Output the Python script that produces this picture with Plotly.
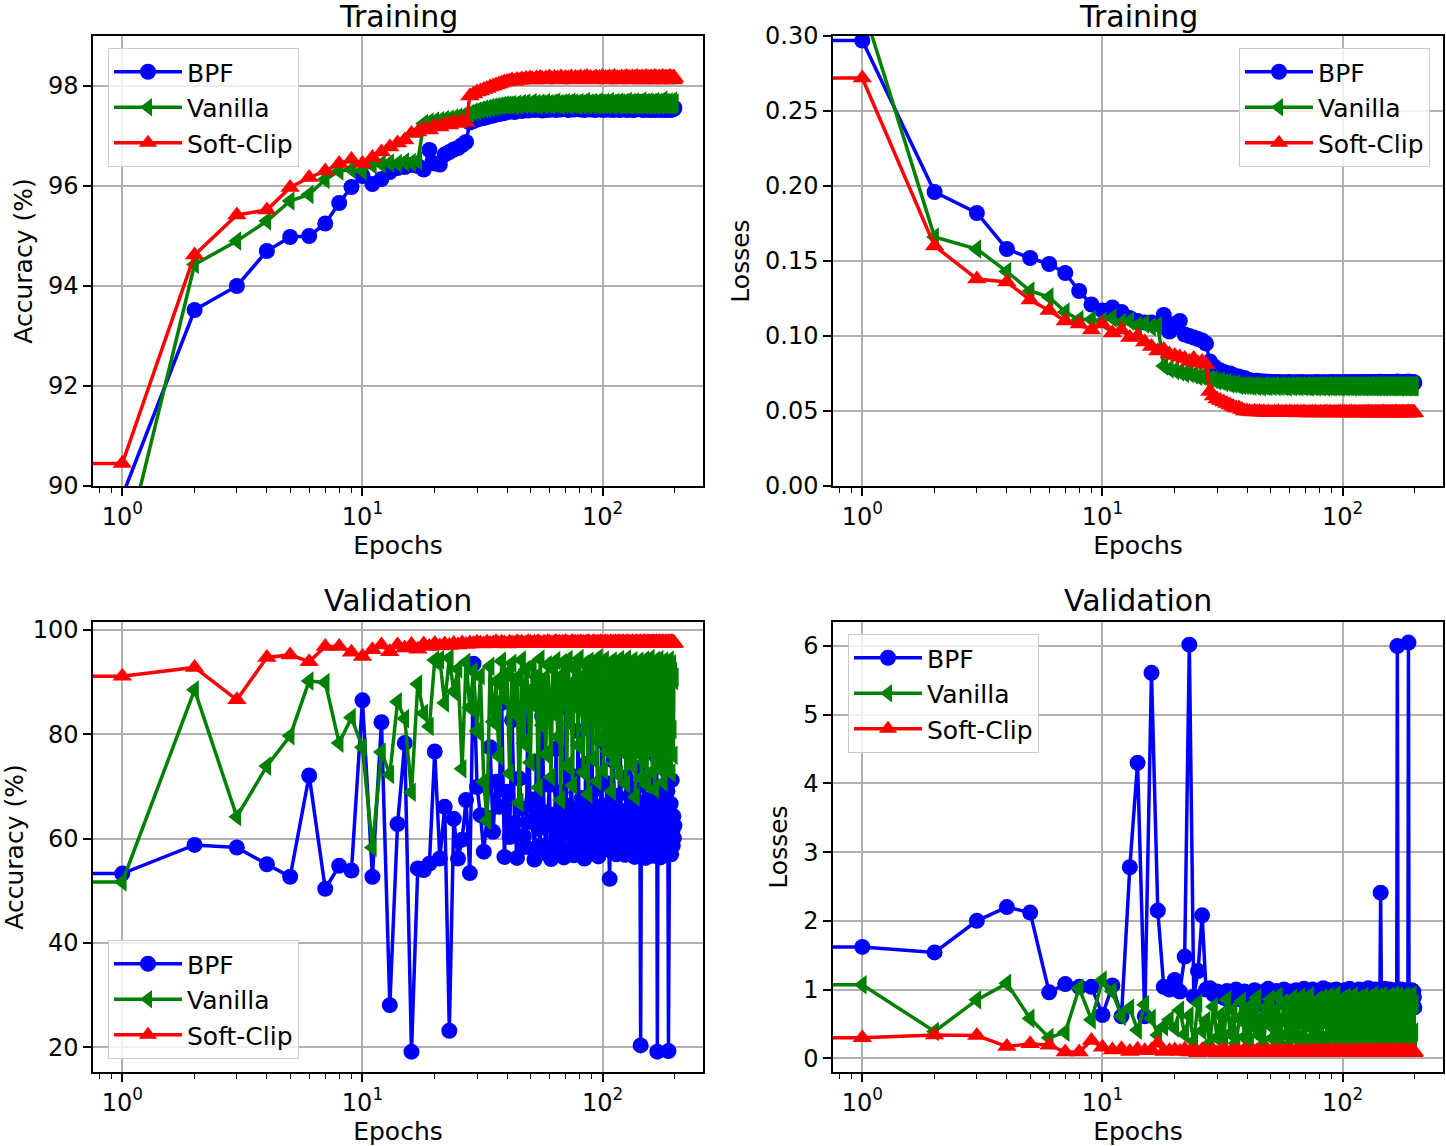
import plotly.graph_objects as go

W, H = 1446, 1146
FONT = "DejaVu Sans"

# ---------------- data ----------------
epochs = list(range(1, 200))
EPOCH0_X = 1e-3  # epoch 0 sits off the log axis (clipped), giving the flat stub at the left edge

methods = ["BPF", "Vanilla", "Soft-Clip"]

x_tick_vals = [1, 10, 100]
x_tick_text = ["10<sup>0</sup>", "10<sup>1</sup>", "10<sup>2</sup>"]
x_minor_ticks = [0.8, 0.9, 2, 3, 4, 5, 6, 7, 8, 9, 20, 30, 40, 50, 60, 70, 80, 90, 200]
train_acc_ticks = [90, 92, 94, 96, 98]
train_loss_ticks = [0.00, 0.05, 0.10, 0.15, 0.20, 0.25, 0.30]
train_loss_tick_text = ["0.00", "0.05", "0.10", "0.15", "0.20", "0.25", "0.30"]
val_acc_ticks = [20, 40, 60, 80, 100]
val_loss_ticks = [0, 1, 2, 3, 4, 5, 6]

train_acc_bpf = [
    89.80, 93.52, 94.00, 94.70, 94.98, 95.00, 95.25, 95.66, 95.98, 96.20,
    96.04, 96.14, 96.28, 96.36, 96.38, 96.42, 96.40, 96.33, 96.72, 96.45,
    96.43, 96.63, 96.68, 96.73, 96.76, 96.82, 96.88, 97.27, 97.30, 97.33,
    97.35, 97.36, 97.38, 97.40, 97.41, 97.43, 97.44, 97.45, 97.46, 97.48,
    97.49, 97.50, 97.48, 97.51, 97.53, 97.50, 97.52, 97.55, 97.51, 97.53,
    97.54, 97.52, 97.56, 97.53, 97.55, 97.51, 97.54, 97.57, 97.52, 97.55,
    97.53, 97.56, 97.54, 97.52, 97.58, 97.55, 97.53, 97.56, 97.54, 97.57,
    97.55, 97.52, 97.56, 97.54, 97.58, 97.53, 97.55, 97.57, 97.54, 97.56,
    97.53, 97.57, 97.55, 97.52, 97.56, 97.54, 97.58, 97.55, 97.53, 97.57,
    97.54, 97.56, 97.52, 97.55, 97.58, 97.54, 97.56, 97.53, 97.57, 97.55,
    97.52, 97.56, 97.54, 97.58, 97.55, 97.53, 97.57, 97.54, 97.56, 97.52,
    97.55, 97.58, 97.54, 97.56, 97.53, 97.57, 97.55, 97.52, 97.56, 97.54,
    97.58, 97.55, 97.53, 97.57, 97.54, 97.56, 97.52, 97.55, 97.59, 97.54,
    97.56, 97.53, 97.57, 97.55, 97.52, 97.56, 97.54, 97.58, 97.55, 97.62,
    97.68, 97.57, 97.54, 97.56, 97.53, 97.57, 97.55, 97.52, 97.56, 97.54,
    97.58, 97.55, 97.53, 97.57, 97.54, 97.56, 97.52, 97.55, 97.58, 97.54,
    97.56, 97.53, 97.57, 97.55, 97.52, 97.56, 97.54, 97.58, 97.55, 97.53,
    97.57, 97.54, 97.56, 97.52, 97.55, 97.58, 97.54, 97.56, 97.53, 97.57,
    97.55, 97.52, 97.56, 97.54, 97.58, 97.55, 97.53, 97.57, 97.54, 97.56,
    97.52, 97.55, 97.58, 97.54, 97.56, 97.53, 97.57, 97.55, 97.56,
]
train_acc_vanilla = [
    88.50, 94.43, 94.90, 95.30, 95.70, 95.83, 96.13, 96.30, 96.33, 96.30,
    96.42, 96.44, 96.46, 96.45, 96.48, 96.47, 96.50, 97.25, 97.28, 97.30,
    97.31, 97.33, 97.34, 97.36, 97.38, 97.39, 97.41, 97.45, 97.48, 97.50,
    97.52, 97.54, 97.55, 97.57, 97.58, 97.59, 97.60, 97.61, 97.62, 97.62,
    97.62, 97.63, 97.61, 97.64, 97.62, 97.65, 97.63, 97.66, 97.62, 97.64,
    97.67, 97.63, 97.65, 97.61, 97.66, 97.64, 97.62, 97.67, 97.63, 97.65,
    97.62, 97.66, 97.64, 97.68, 97.63, 97.65, 97.61, 97.66, 97.64, 97.67,
    97.63, 97.65, 97.62, 97.68, 97.64, 97.66, 97.63, 97.65, 97.61, 97.67,
    97.64, 97.62, 97.66, 97.63, 97.69, 97.64, 97.62, 97.66, 97.65, 97.63,
    97.67, 97.64, 97.62, 97.66, 97.63, 97.68, 97.65, 97.62, 97.66, 97.64,
    97.63, 97.67, 97.65, 97.62, 97.66, 97.64, 97.69, 97.63, 97.65, 97.62,
    97.66, 97.64, 97.67, 97.63, 97.65, 97.62, 97.68, 97.64, 97.66, 97.63,
    97.65, 97.62, 97.67, 97.64, 97.66, 97.63, 97.69, 97.65, 97.62, 97.66,
    97.64, 97.67, 97.63, 97.65, 97.62, 97.68, 97.64, 97.66, 97.63, 97.65,
    97.62, 97.67, 97.64, 97.66, 97.63, 97.70, 97.65, 97.62, 97.66, 97.64,
    97.67, 97.63, 97.65, 97.62, 97.68, 97.64, 97.66, 97.63, 97.65, 97.62,
    97.67, 97.64, 97.66, 97.63, 97.69, 97.65, 97.62, 97.66, 97.64, 97.67,
    97.63, 97.65, 97.62, 97.68, 97.64, 97.66, 97.63, 97.65, 97.72, 97.64,
    97.66, 97.63, 97.67, 97.65, 97.62, 97.66, 97.64, 97.68, 97.63, 97.65,
    97.62, 97.67, 97.64, 97.66, 97.63, 97.70, 97.65, 97.64, 97.66,
]
train_acc_softclip = [
    90.45, 94.62, 95.42, 95.52, 95.97, 96.17, 96.30, 96.45, 96.53, 96.45,
    96.57, 96.68, 96.78, 96.86, 96.92, 97.05, 97.08, 97.15, 97.12, 97.20,
    97.18, 97.24, 97.22, 97.28, 97.25, 97.30, 97.27, 97.80, 97.84, 97.88,
    97.90, 97.93, 97.95, 97.98, 98.00, 98.02, 98.04, 98.06, 98.08, 98.09,
    98.10, 98.12, 98.09, 98.13, 98.11, 98.14, 98.12, 98.15, 98.13, 98.16,
    98.14, 98.12, 98.16, 98.13, 98.17, 98.15, 98.12, 98.16, 98.14, 98.18,
    98.15, 98.13, 98.17, 98.14, 98.16, 98.12, 98.18, 98.15, 98.13, 98.17,
    98.14, 98.16, 98.13, 98.18, 98.15, 98.12, 98.17, 98.14, 98.16, 98.13,
    98.18, 98.15, 98.13, 98.17, 98.14, 98.19, 98.16, 98.13, 98.17, 98.15,
    98.12, 98.16, 98.14, 98.18, 98.15, 98.13, 98.17, 98.14, 98.16, 98.19,
    98.15, 98.13, 98.17, 98.14, 98.16, 98.12, 98.18, 98.15, 98.13, 98.17,
    98.14, 98.19, 98.16, 98.13, 98.17, 98.15, 98.12, 98.16, 98.14, 98.18,
    98.15, 98.13, 98.17, 98.14, 98.16, 98.19, 98.15, 98.13, 98.17, 98.14,
    98.16, 98.12, 98.18, 98.15, 98.13, 98.17, 98.14, 98.16, 98.19, 98.15,
    98.13, 98.17, 98.14, 98.16, 98.12, 98.18, 98.15, 98.13, 98.17, 98.14,
    98.16, 98.19, 98.15, 98.13, 98.17, 98.14, 98.16, 98.12, 98.18, 98.15,
    98.13, 98.17, 98.14, 98.16, 98.19, 98.15, 98.13, 98.17, 98.14, 98.16,
    98.12, 98.18, 98.15, 98.13, 98.17, 98.14, 98.16, 98.19, 98.15, 98.13,
    98.17, 98.14, 98.16, 98.12, 98.18, 98.15, 98.13, 98.17, 98.14, 98.16,
    98.19, 98.15, 98.13, 98.17, 98.14, 98.16, 98.12, 98.18, 98.15,
]

train_loss_bpf = [
    0.297, 0.196, 0.182, 0.158, 0.152, 0.148, 0.142, 0.130, 0.121, 0.117,
    0.119, 0.116, 0.112, 0.110, 0.109, 0.109, 0.108, 0.114, 0.103, 0.108,
    0.110, 0.101, 0.100, 0.099, 0.098, 0.097, 0.095, 0.083, 0.080, 0.078,
    0.077, 0.076, 0.075, 0.075, 0.074, 0.073, 0.073, 0.072, 0.072, 0.071,
    0.0705, 0.0702, 0.0699, 0.0701, 0.0696, 0.0698, 0.0694, 0.0697, 0.0692, 0.0695,
    0.0691, 0.0694, 0.0689, 0.0693, 0.0690, 0.0692, 0.0688, 0.0691, 0.0689, 0.0693,
    0.0690, 0.0687, 0.0692, 0.0689, 0.0691, 0.0688, 0.0693, 0.0690, 0.0687, 0.0691,
    0.0689, 0.0692, 0.0688, 0.0690, 0.0687, 0.0691, 0.0689, 0.0693, 0.0688, 0.0690,
    0.0687, 0.0691, 0.0689, 0.0692, 0.0688, 0.0690, 0.0687, 0.0691, 0.0689, 0.0693,
    0.0688, 0.0690, 0.0687, 0.0692, 0.0689, 0.0691, 0.0688, 0.0690, 0.0693, 0.0687,
    0.0691, 0.0689, 0.0692, 0.0688, 0.0690, 0.0687, 0.0691, 0.0689, 0.0693, 0.0688,
    0.0690, 0.0687, 0.0692, 0.0689, 0.0691, 0.0688, 0.0690, 0.0693, 0.0687, 0.0691,
    0.0689, 0.0692, 0.0688, 0.0690, 0.0687, 0.0691, 0.0689, 0.0693, 0.0688, 0.0690,
    0.0687, 0.0692, 0.0689, 0.0691, 0.0688, 0.0690, 0.0693, 0.0687, 0.0691, 0.0689,
    0.0692, 0.0688, 0.0690, 0.0695, 0.0687, 0.0691, 0.0689, 0.0693, 0.0688, 0.0690,
    0.0687, 0.0691, 0.0689, 0.0692, 0.0688, 0.0690, 0.0693, 0.0687, 0.0691, 0.0689,
    0.0692, 0.0688, 0.0690, 0.0687, 0.0691, 0.0689, 0.0693, 0.0688, 0.0696, 0.0690,
    0.0687, 0.0691, 0.0689, 0.0692, 0.0688, 0.0690, 0.0693, 0.0687, 0.0691, 0.0689,
    0.0692, 0.0688, 0.0690, 0.0687, 0.0691, 0.0689, 0.0693, 0.0697, 0.0688, 0.0690,
    0.0687, 0.0691, 0.0689, 0.0692, 0.0688, 0.0690, 0.0693, 0.0687, 0.0690,
]
train_loss_vanilla = [
    0.321, 0.166, 0.158, 0.143, 0.130, 0.126, 0.116, 0.111, 0.111, 0.110,
    0.112, 0.109, 0.110, 0.107, 0.108, 0.106, 0.107, 0.080, 0.078, 0.077,
    0.076, 0.075, 0.075, 0.074, 0.073, 0.073, 0.072, 0.071, 0.071, 0.070,
    0.070, 0.069, 0.069, 0.068, 0.068, 0.068, 0.067, 0.067, 0.067, 0.067,
    0.0668, 0.0665, 0.0670, 0.0664, 0.0667, 0.0662, 0.0669, 0.0665, 0.0663, 0.0668,
    0.0664, 0.0670, 0.0662, 0.0667, 0.0665, 0.0669, 0.0663, 0.0666, 0.0661, 0.0668,
    0.0665, 0.0663, 0.0669, 0.0664, 0.0667, 0.0662, 0.0670, 0.0665, 0.0663, 0.0668,
    0.0664, 0.0666, 0.0661, 0.0669, 0.0665, 0.0663, 0.0667, 0.0662, 0.0670, 0.0664,
    0.0666, 0.0663, 0.0668, 0.0665, 0.0661, 0.0669, 0.0664, 0.0667, 0.0662, 0.0666,
    0.0663, 0.0670, 0.0665, 0.0662, 0.0668, 0.0664, 0.0666, 0.0661, 0.0669, 0.0665,
    0.0663, 0.0667, 0.0662, 0.0670, 0.0664, 0.0666, 0.0663, 0.0668, 0.0665, 0.0661,
    0.0669, 0.0664, 0.0667, 0.0662, 0.0666, 0.0663, 0.0670, 0.0665, 0.0662, 0.0668,
    0.0664, 0.0666, 0.0661, 0.0669, 0.0665, 0.0663, 0.0667, 0.0662, 0.0670, 0.0664,
    0.0666, 0.0663, 0.0668, 0.0665, 0.0661, 0.0669, 0.0664, 0.0667, 0.0662, 0.0666,
    0.0663, 0.0670, 0.0665, 0.0662, 0.0668, 0.0664, 0.0666, 0.0661, 0.0669, 0.0665,
    0.0663, 0.0667, 0.0662, 0.0670, 0.0664, 0.0666, 0.0663, 0.0668, 0.0665, 0.0661,
    0.0669, 0.0664, 0.0667, 0.0662, 0.0666, 0.0663, 0.0670, 0.0665, 0.0662, 0.0668,
    0.0664, 0.0666, 0.0661, 0.0669, 0.0665, 0.0663, 0.0667, 0.0662, 0.0670, 0.0664,
    0.0666, 0.0663, 0.0668, 0.0665, 0.0661, 0.0669, 0.0664, 0.0667, 0.0662, 0.0666,
    0.0663, 0.0670, 0.0665, 0.0662, 0.0668, 0.0664, 0.0666, 0.0661, 0.0667,
]
train_loss_softclip = [
    0.272, 0.160, 0.138, 0.136, 0.124, 0.117, 0.110, 0.108, 0.104, 0.108,
    0.102, 0.104, 0.099, 0.100, 0.096, 0.093, 0.090, 0.091, 0.088, 0.087,
    0.086, 0.085, 0.083, 0.085, 0.082, 0.083, 0.081, 0.063, 0.060, 0.058,
    0.057, 0.056, 0.055, 0.054, 0.053, 0.052, 0.052, 0.051, 0.050, 0.050,
    0.0497, 0.0494, 0.0499, 0.0493, 0.0496, 0.0491, 0.0495, 0.0490, 0.0494, 0.0492,
    0.0489, 0.0493, 0.0490, 0.0495, 0.0488, 0.0492, 0.0490, 0.0494, 0.0489, 0.0491,
    0.0493, 0.0488, 0.0492, 0.0490, 0.0494, 0.0487, 0.0491, 0.0489, 0.0493, 0.0488,
    0.0490, 0.0486, 0.0492, 0.0489, 0.0491, 0.0487, 0.0493, 0.0488, 0.0490, 0.0486,
    0.0492, 0.0489, 0.0487, 0.0491, 0.0488, 0.0493, 0.0490, 0.0486, 0.0491, 0.0489,
    0.0487, 0.0492, 0.0488, 0.0490, 0.0486, 0.0491, 0.0489, 0.0493, 0.0487, 0.0490,
    0.0488, 0.0492, 0.0486, 0.0490, 0.0489, 0.0487, 0.0491, 0.0488, 0.0493, 0.0486,
    0.0490, 0.0488, 0.0492, 0.0487, 0.0489, 0.0486, 0.0491, 0.0488, 0.0490, 0.0487,
    0.0492, 0.0489, 0.0486, 0.0490, 0.0488, 0.0491, 0.0487, 0.0493, 0.0489, 0.0486,
    0.0490, 0.0488, 0.0492, 0.0487, 0.0489, 0.0486, 0.0491, 0.0488, 0.0490, 0.0487,
    0.0492, 0.0489, 0.0486, 0.0490, 0.0488, 0.0491, 0.0487, 0.0493, 0.0489, 0.0486,
    0.0490, 0.0488, 0.0492, 0.0487, 0.0489, 0.0486, 0.0491, 0.0488, 0.0490, 0.0487,
    0.0492, 0.0489, 0.0486, 0.0490, 0.0488, 0.0491, 0.0487, 0.0493, 0.0489, 0.0486,
    0.0490, 0.0488, 0.0492, 0.0487, 0.0489, 0.0486, 0.0491, 0.0488, 0.0490, 0.0487,
    0.0492, 0.0489, 0.0486, 0.0490, 0.0488, 0.0491, 0.0487, 0.0493, 0.0489, 0.0486,
    0.0490, 0.0488, 0.0492, 0.0487, 0.0489, 0.0486, 0.0491, 0.0488, 0.0490,
]

val_acc_bpf = [
    53.3, 58.8, 58.3, 55.1, 52.7, 72.1, 50.4, 54.8, 53.9, 86.5,
    52.7, 82.3, 28.1, 62.8, 78.3, 19.2, 54.3, 54.0, 55.2, 76.7,
    56.2, 66.1, 23.2, 63.8, 56.2, 59.8, 67.4, 53.4, 93.5, 69.9,
    64.5, 57.5, 64.0, 77.5, 61.3, 70.9, 66.1, 86.0, 56.5, 69.0,
    60.3, 82.7, 63.0, 56.3, 71.5, 65.8, 60.5, 58.4, 88.0, 63.2,
    67.5, 56.0, 74.8, 61.9, 58.7, 83.5, 65.1, 57.2, 62.8, 70.3,
    56.1, 64.6, 59.4, 77.2, 61.7, 57.8, 68.9, 63.4, 56.4, 85.2,
    60.9, 66.3, 58.0, 72.1, 62.5, 56.8, 64.9, 59.7, 80.6, 61.2,
    57.1, 67.8, 63.0, 56.2, 74.3, 60.1, 58.5, 65.7, 62.3, 90.2,
    59.0, 63.8, 57.3, 69.5, 61.4, 56.6, 66.2, 60.7, 78.8, 58.3,
    64.4, 61.0, 57.9, 70.6, 63.1, 59.2, 52.3, 66.9, 60.4, 62.7,
    74.9, 58.1, 63.6, 57.0, 68.2, 61.8, 59.9, 84.1, 62.4, 57.5,
    65.3, 60.2, 63.9, 56.9, 71.7, 59.6, 64.2, 61.1, 58.3, 76.4,
    62.0, 57.4, 66.8, 60.6, 63.5, 56.5, 69.7, 61.9, 59.1, 64.8,
    58.2, 73.6, 62.1, 20.4, 60.9, 57.7, 65.6, 59.4, 82.9, 61.3,
    56.3, 63.7, 60.0, 67.4, 58.6, 62.9, 57.2, 71.3, 60.5, 64.1,
    58.8, 61.6, 56.7, 66.3, 59.8, 63.2, 57.9, 75.6, 19.2, 62.6,
    58.1, 64.7, 60.3, 56.4, 68.8, 61.5, 59.0, 80.1, 63.9, 57.6,
    62.2, 58.9, 65.4, 60.8, 57.3, 69.1, 62.0, 19.3, 58.4, 63.5,
    59.6, 66.7, 57.0, 71.2, 61.4, 58.7, 64.3, 60.1, 62.5,
]
val_acc_vanilla = [
    51.7, 88.5, 64.2, 73.9, 79.7, 90.2, 89.9, 78.3, 83.2, 77.5,
    58.3, 76.6, 72.3, 86.2, 83.0, 68.9, 89.6, 84.0, 81.5, 94.2,
    94.3, 86.0, 94.6, 88.2, 92.5, 73.4, 93.8, 85.1, 92.0, 80.6,
    91.2, 70.9, 63.5, 93.0, 82.4, 90.1, 75.8, 94.0, 86.8, 91.7,
    72.5, 93.6, 84.0, 90.8, 66.9, 94.2, 78.3, 92.4, 88.1, 74.6,
    93.1, 85.5, 91.0, 69.8, 94.4, 81.7, 90.6, 76.2, 93.3, 87.2,
    71.8, 92.8, 83.9, 94.1, 79.5, 90.9, 67.4, 93.7, 85.8, 91.4,
    74.0, 94.3, 82.1, 89.7, 70.2, 93.0, 86.4, 92.2, 77.9, 94.5,
    84.6, 90.3, 72.7, 93.4, 80.8, 91.8, 68.5, 94.0, 87.6, 92.6,
    75.3, 93.9, 83.2, 90.5, 71.0, 94.6, 79.0, 92.1, 86.0, 91.3,
    73.1, 94.2, 84.9, 89.9, 76.7, 93.5, 81.4, 92.7, 69.1, 94.0,
    85.7, 91.1, 74.4, 93.8, 80.0, 90.4, 72.2, 94.3, 87.9, 92.0,
    77.1, 93.2, 83.6, 91.6, 70.5, 94.4, 86.1, 90.2, 75.7, 93.6,
    82.3, 92.4, 73.9, 94.1, 79.8, 91.0, 68.0, 93.3, 85.2, 92.8,
    76.4, 94.0, 81.1, 90.7, 71.6, 93.7, 87.3, 91.9, 74.8, 94.2,
    83.8, 92.3, 70.3, 93.1, 80.4, 90.9, 76.9, 94.5, 85.4, 91.5,
    72.9, 93.4, 82.7, 92.1, 69.5, 94.1, 78.6, 91.2, 86.7, 93.0,
    75.1, 94.3, 81.9, 90.6, 73.2, 93.6, 84.3, 92.5, 70.8, 94.0,
    79.3, 91.7, 86.2, 93.2, 74.1, 92.9, 82.5, 90.8, 77.4, 94.2,
    85.0, 91.4, 72.6, 93.5, 80.9, 92.0, 76.0, 90.3, 91.0,
]
val_acc_softclip = [
    91.1, 92.8, 86.6, 94.7, 95.2, 93.9, 96.8, 96.8, 95.7, 94.9,
    96.2, 97.1, 95.8, 97.1, 96.5, 97.2, 96.3, 97.3, 96.8, 97.4,
    96.9, 97.3, 97.0, 97.4, 97.1, 97.5, 97.2, 97.5, 97.4, 97.6,
    97.5, 97.3, 97.6, 97.4, 97.5, 97.7, 97.4, 97.6, 97.5, 97.3,
    97.6, 97.5, 97.4, 97.7, 97.5, 97.6, 97.4, 97.5, 97.7, 97.6,
    97.4, 97.6, 97.5, 97.7, 97.5, 97.4, 97.6, 97.5, 97.7, 97.6,
    97.5, 97.4, 97.6, 97.7, 97.5, 97.6, 97.4, 97.6, 97.5, 97.7,
    97.6, 97.5, 97.4, 97.6, 97.7, 97.5, 97.6, 97.4, 97.6, 97.5,
    97.7, 97.5, 97.6, 97.4, 97.6, 97.5, 97.7, 97.6, 97.5, 97.4,
    97.6, 97.7, 97.5, 97.6, 97.4, 97.6, 97.5, 97.7, 97.6, 97.5,
    97.4, 97.6, 97.7, 97.5, 97.6, 97.5, 97.4, 97.7, 97.6, 97.5,
    97.6, 97.4, 97.7, 97.5, 97.6, 97.5, 97.7, 97.4, 97.6, 97.5,
    97.6, 97.7, 97.5, 97.4, 97.6, 97.5, 97.7, 97.6, 97.5, 97.4,
    97.6, 97.5, 97.7, 97.6, 97.4, 97.5, 97.6, 97.7, 97.5, 97.6,
    97.4, 97.6, 97.5, 97.7, 97.6, 97.5, 97.4, 97.6, 97.7, 97.5,
    97.6, 97.5, 97.4, 97.7, 97.6, 97.5, 97.6, 97.4, 97.7, 97.5,
    97.6, 97.5, 97.7, 97.4, 97.6, 97.5, 97.6, 97.7, 97.5, 97.4,
    97.6, 97.5, 97.7, 97.6, 97.4, 97.5, 97.6, 97.7, 97.5, 97.6,
    97.4, 97.6, 97.5, 97.7, 97.6, 97.5, 97.4, 97.6, 97.7, 97.5,
    97.6, 97.5, 97.4, 97.7, 97.6, 97.5, 97.6, 97.4, 97.5,
]

val_loss_bpf = [
    1.62, 1.54, 2.00, 2.20, 2.12, 0.96, 1.08, 1.04, 1.04, 0.63,
    1.06, 0.61, 2.78, 4.30, 0.61, 5.61, 2.15, 1.04, 1.00, 1.14,
    0.97, 1.48, 6.02, 0.90, 1.27, 2.08, 1.00, 1.02, 0.93, 0.97,
    0.95, 0.88, 0.98, 0.82, 0.93, 1.00, 0.86, 0.91, 0.97, 0.80,
    0.94, 0.89, 0.99, 0.84, 0.92, 0.96, 0.78, 0.90, 1.01, 0.87,
    0.93, 0.83, 0.98, 0.90, 0.85, 0.95, 1.00, 0.81, 0.92, 0.97,
    0.88, 0.94, 0.79, 0.99, 0.91, 0.86, 0.96, 0.83, 1.01, 0.90,
    0.84, 0.97, 0.92, 0.87, 1.00, 0.80, 0.95, 0.89, 0.93, 0.98,
    0.85, 0.91, 1.02, 0.82, 0.96, 0.88, 0.94, 0.99, 0.79, 0.92,
    0.97, 0.86, 0.93, 1.00, 0.84, 0.90, 0.98, 0.83, 0.95, 0.91,
    0.87, 0.99, 0.81, 0.94, 0.96, 0.89, 1.01, 0.85, 0.92, 0.97,
    0.82, 0.95, 0.90, 0.98, 0.86, 0.93, 1.00, 0.80, 0.94, 0.89,
    0.97, 0.84, 0.91, 0.99, 0.87, 0.95, 0.83, 1.02, 0.90, 0.93,
    0.86, 0.98, 0.92, 0.81, 0.96, 0.89, 1.00, 0.85, 0.94, 0.91,
    0.97, 0.83, 0.93, 2.41, 0.88, 0.99, 0.84, 0.95, 0.90, 1.01,
    0.86, 0.92, 0.97, 0.82, 0.94, 0.89, 1.00, 0.85, 0.96, 0.91,
    0.87, 0.98, 0.83, 0.93, 0.99, 0.88, 0.95, 0.90, 6.00, 0.92,
    0.84, 0.97, 0.91, 0.86, 1.00, 0.82, 0.94, 0.89, 0.96, 0.93,
    0.85, 0.99, 0.90, 0.87, 0.95, 0.92, 0.98, 6.05, 0.94, 0.88,
    0.96, 0.83, 0.91, 0.99, 0.86, 0.93, 0.97, 0.89, 0.74,
]
val_loss_vanilla = [
    1.07, 0.39, 0.85, 1.09, 0.58, 0.30, 0.38, 1.02, 0.56, 1.14,
    0.97, 0.61, 0.73, 0.41, 0.78, 0.58, 0.34, 0.46, 0.56, 0.44,
    0.70, 0.35, 0.62, 0.25, 0.80, 0.40, 0.55, 0.22, 0.75, 0.30,
    0.62, 0.28, 0.85, 0.36, 0.70, 0.22, 0.58, 0.83, 0.31, 0.66,
    0.24, 0.78, 0.45, 0.88, 0.33, 0.60, 0.20, 0.74, 0.50, 0.86,
    0.29, 0.68, 0.41, 0.90, 0.26, 0.57, 0.81, 0.35, 0.72, 0.21,
    0.64, 0.87, 0.38, 0.76, 0.27, 0.54, 0.89, 0.32, 0.69, 0.23,
    0.80, 0.47, 0.91, 0.30, 0.63, 0.19, 0.75, 0.43, 0.85, 0.34,
    0.67, 0.25, 0.88, 0.52, 0.79, 0.28, 0.61, 0.90, 0.37, 0.71,
    0.22, 0.83, 0.44, 0.92, 0.31, 0.65, 0.20, 0.77, 0.49, 0.86,
    0.27, 0.70, 0.39, 0.89, 0.33, 0.58, 0.82, 0.24, 0.73, 0.46,
    0.91, 0.29, 0.62, 0.21, 0.80, 0.42, 0.87, 0.35, 0.68, 0.23,
    0.84, 0.51, 0.90, 0.30, 0.66, 0.19, 0.76, 0.45, 0.88, 0.36,
    0.63, 0.26, 0.85, 0.53, 0.92, 0.32, 0.70, 0.22, 0.79, 0.40,
    0.89, 0.28, 0.64, 0.20, 0.83, 0.48, 0.91, 0.34, 0.72, 0.25,
    0.86, 0.43, 0.67, 0.21, 0.81, 0.37, 0.90, 0.30, 0.60, 0.24,
    0.87, 0.50, 0.78, 0.27, 0.92, 0.39, 0.69, 0.20, 0.84, 0.46,
    0.90, 0.31, 0.65, 0.23, 0.80, 0.41, 0.88, 0.33, 0.74, 0.26,
    0.85, 0.55, 0.91, 0.29, 0.68, 0.21, 0.82, 0.44, 0.89, 0.35,
    0.71, 0.24, 0.86, 0.52, 0.92, 0.30, 0.77, 0.38, 0.80,
]
val_loss_softclip = [
    0.30, 0.34, 0.33, 0.17, 0.21, 0.19, 0.09, 0.09, 0.26, 0.16,
    0.12, 0.14, 0.10, 0.13, 0.11, 0.12, 0.22, 0.10, 0.11, 0.12,
    0.10, 0.13, 0.09, 0.11, 0.08, 0.12, 0.10, 0.09, 0.11, 0.08,
    0.10, 0.12, 0.09, 0.08, 0.11, 0.09, 0.10, 0.08, 0.12, 0.09,
    0.08, 0.10, 0.09, 0.11, 0.08, 0.09, 0.10, 0.08, 0.11, 0.09,
    0.10, 0.08, 0.09, 0.11, 0.08, 0.10, 0.09, 0.08, 0.10, 0.09,
    0.11, 0.08, 0.09, 0.10, 0.08, 0.09, 0.11, 0.08, 0.10, 0.09,
    0.08, 0.10, 0.09, 0.11, 0.08, 0.09, 0.10, 0.08, 0.09, 0.11,
    0.08, 0.10, 0.09, 0.08, 0.10, 0.09, 0.11, 0.08, 0.09, 0.10,
    0.08, 0.09, 0.11, 0.08, 0.10, 0.09, 0.08, 0.10, 0.09, 0.11,
    0.08, 0.09, 0.10, 0.08, 0.11, 0.09, 0.08, 0.10, 0.09, 0.08,
    0.10, 0.09, 0.11, 0.08, 0.09, 0.10, 0.08, 0.09, 0.11, 0.08,
    0.10, 0.09, 0.08, 0.10, 0.09, 0.11, 0.08, 0.09, 0.10, 0.08,
    0.09, 0.11, 0.08, 0.10, 0.09, 0.08, 0.10, 0.09, 0.11, 0.08,
    0.09, 0.10, 0.08, 0.11, 0.09, 0.08, 0.10, 0.09, 0.08, 0.10,
    0.09, 0.11, 0.08, 0.09, 0.10, 0.08, 0.09, 0.11, 0.08, 0.10,
    0.09, 0.08, 0.10, 0.09, 0.11, 0.08, 0.09, 0.10, 0.08, 0.09,
    0.11, 0.08, 0.10, 0.09, 0.08, 0.10, 0.09, 0.11, 0.08, 0.09,
    0.10, 0.08, 0.09, 0.11, 0.08, 0.10, 0.09, 0.08, 0.10, 0.09,
    0.11, 0.08, 0.09, 0.10, 0.08, 0.09, 0.11, 0.08, 0.09,
]

# ---------------- style ----------------
style = {
    "BPF": dict(color="#0000ff", symbol="circle", size=16),
    "Vanilla": dict(color="#008000", symbol="triangle-left", size=17),
    "Soft-Clip": dict(color="#ff0000", symbol="triangle-up", size=17),
}
LINE_W = 3.5

# pixel boxes of the four axes (left, right, top, bottom)
COLS = [(93, 703), (833, 1443)]
ROWS = [(36, 486), (622, 1072)]

panels = [
    dict(col=0, row=0, title="Training", ylabel="Accuracy (%)", yrange=[90, 99],
         tickvals=train_acc_ticks, ticktext=[str(v) for v in train_acc_ticks],
         series=[train_acc_bpf, train_acc_vanilla, train_acc_softclip],
         legend=dict(x=108, y=48, xanchor="left", yanchor="top")),
    dict(col=1, row=0, title="Training", ylabel="Losses", yrange=[0, 0.30],
         tickvals=train_loss_ticks, ticktext=train_loss_tick_text,
         series=[train_loss_bpf, train_loss_vanilla, train_loss_softclip],
         legend=dict(x=1430, y=48, xanchor="right", yanchor="top")),
    dict(col=0, row=1, title="Validation", ylabel="Accuracy (%)", yrange=[15.3, 101.5],
         tickvals=val_acc_ticks, ticktext=[str(v) for v in val_acc_ticks],
         series=[val_acc_bpf, val_acc_vanilla, val_acc_softclip],
         legend=dict(x=108, y=1059, xanchor="left", yanchor="bottom")),
    dict(col=1, row=1, title="Validation", ylabel="Losses", yrange=[-0.2, 6.35],
         tickvals=val_loss_ticks, ticktext=[str(v) for v in val_loss_ticks],
         series=[val_loss_bpf, val_loss_vanilla, val_loss_softclip],
         legend=dict(x=848, y=634, xanchor="left", yanchor="top")),
]

fig = go.Figure()
layout = dict(
    width=W, height=H, margin=dict(l=0, r=0, t=0, b=0),
    paper_bgcolor="white", plot_bgcolor="white",
    font=dict(family=FONT, size=24, color="black"),
    showlegend=True, annotations=[],
)

axis_common = dict(
    showline=True, linecolor="black", linewidth=1.5, mirror=True,
    ticks="outside", ticklen=8, tickwidth=1.5, tickcolor="black",
    showgrid=True, gridcolor="#b0b0b0", gridwidth=1.6, zeroline=False,
    tickfont=dict(family=FONT, size=24, color="black"), automargin=False,
)

for i, p in enumerate(panels):
    n = i + 1
    xa, ya = ("x" if n == 1 else f"x{n}"), ("y" if n == 1 else f"y{n}")
    xkey, ykey = ("xaxis" if n == 1 else f"xaxis{n}"), ("yaxis" if n == 1 else f"yaxis{n}")
    lkey = "legend" if n == 1 else f"legend{n}"
    x0, x1 = COLS[p["col"]]
    top, bot = ROWS[p["row"]]

    for m, vals in zip(methods, p["series"]):
        s = style[m]
        xs = [EPOCH0_X] + epochs[:len(vals)]
        ys = [vals[0]] + list(vals)
        fig.add_trace(go.Scatter(
            x=xs, y=ys, mode="lines+markers", name=m,
            line=dict(color=s["color"], width=LINE_W),
            marker=dict(color=s["color"], symbol=s["symbol"], size=s["size"], line=dict(width=0)),
            xaxis=xa, yaxis=ya, legend=lkey, legendgroup=f"{m}-{n}",
            cliponaxis=True, hoverinfo="x+y+name",
        ))

    layout[xkey] = dict(
        axis_common, type="log", range=[-0.122, 2.418], anchor=ya,
        domain=[x0 / W, x1 / W],
        tickmode="array", tickvals=x_tick_vals, ticktext=x_tick_text,
        minor=dict(ticks="outside", ticklen=5, tickwidth=1.2, tickcolor="black",
                   tickmode="array", tickvals=x_minor_ticks, showgrid=False),
        title=dict(text="Epochs", standoff=5, font=dict(family=FONT, size=25, color="black")),
    )
    layout[ykey] = dict(
        axis_common, range=p["yrange"], anchor=xa,
        domain=[1 - bot / H, 1 - top / H],
        tickmode="array", tickvals=p["tickvals"], ticktext=p["ticktext"],
        title=dict(text=p["ylabel"], standoff=8, font=dict(family=FONT, size=25, color="black")),
    )
    lg = p["legend"]
    layout[lkey] = dict(
        x=lg["x"] / W, y=1 - lg["y"] / H, xanchor=lg["xanchor"], yanchor=lg["yanchor"],
        xref="paper", yref="paper",
        bgcolor="rgba(255,255,255,0.8)", bordercolor="#cccccc", borderwidth=1,
        font=dict(family=FONT, size=25, color="black"),
        tracegroupgap=7, itemwidth=68, traceorder="normal",
    )
    title_y = 17 if p["row"] == 0 else 600
    layout["annotations"].append(dict(
        text=p["title"], x=(x0 + x1) / 2 / W, y=1 - title_y / H,
        xref="paper", yref="paper", xanchor="center", yanchor="middle",
        showarrow=False, font=dict(family=FONT, size=30, color="black"),
    ))

fig.update_layout(**layout)
fig.write_html("out.html")
